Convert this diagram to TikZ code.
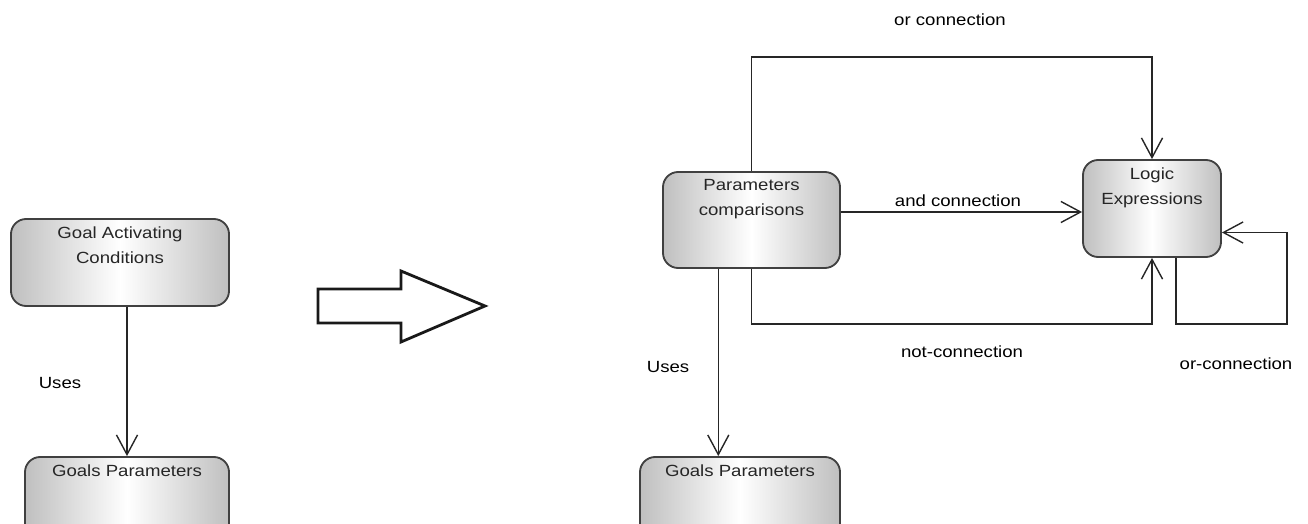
\documentclass[tikz,border=0pt]{standalone}
\usepackage{fontspec}
\setmainfont{Liberation Sans}[FakeStretch=1.15]
\usetikzlibrary{arrows.meta, positioning, calc}

\tikzset{
    block/.style={draw=black!75, line width=1.3pt, rounded corners=0.38cm,
        left color=gray!50, right color=gray!50, middle color=white},
    blocktext/.style={anchor=north, align=center, inner sep=6pt, text=black!85},
    conn/.style={draw=black!85, line width=1pt, -{Straight Barb[length=14pt,width=15pt]}},
    line/.style={draw=black!85, line width=1pt},
}

\begin{document}
\begin{tikzpicture}[x=0.025cm, y=-0.025cm, font=\fontsize{11.5}{17.5}\selectfont]
    \useasboundingbox (0,0) rectangle (1308,524);
    % left side
    \node[block, minimum width=5.45cm, minimum height=2.175cm,
        label={[blocktext]north:{Goal Activating\\Conditions}}] (gac) at (120,262.5) {};
    \node[block, minimum width=5.1cm, minimum height=2.175cm,
        label={[blocktext]north:{Goals Parameters}}] (gpl) at (127,500.5) {};
    \draw[conn] (gac.south -| gpl.north) -- (gpl.north);
    \node (usesl) at (60,383) {Uses};

    % big arrow
    \draw[line width=2pt, line join=miter, draw=black!90]
        (318,289) -- (401,289) -- (401,271) -- (485,306) -- (401,342) -- (401,323) -- (318,323) -- cycle;

    % right side
    \node[block, minimum width=4.425cm, minimum height=2.4cm,
        label={[blocktext]north:{Parameters\\comparisons}}] (pc) at (751.5,220) {};
    \node[block, minimum width=3.45cm, minimum height=2.425cm,
        label={[blocktext]north:{Logic\\Expressions}}] (le) at (1152,208.5) {};
    \node[block, minimum width=5cm, minimum height=2.175cm,
        label={[blocktext]north:{Goals Parameters}}] (gpr) at (740,500.5) {};

    \coordinate (ortop) at (751.5,57);
    \coordinate (notbot) at (751.5,324);
    \coordinate (loop) at (1287,324);

    \draw[conn] (pc.north) -- (ortop) -| (le.north);
    \draw[conn] (pc.east |- 0,212) -- (le.west |- 0,212);
    \draw[conn] (pc.south) -- (notbot) -| (le.south);
    \draw[conn] ([xshift=0.6cm]le.south) |- (loop) |- ([yshift=-0.6cm]le.east);
    \draw[conn] ([xshift=-0.83cm]pc.south) coordinate (usetop) -- (usetop |- gpr.north);

    \node (orc) at (950,20) {or connection};
    \node (andc) at (958,201) {and connection};
    \node (notc) at (962,352) {not-connection};
    \node (orloop) at (1236,364) {or-connection};
    \node (usesr) at (668,367) {Uses};
\end{tikzpicture}
\end{document}
